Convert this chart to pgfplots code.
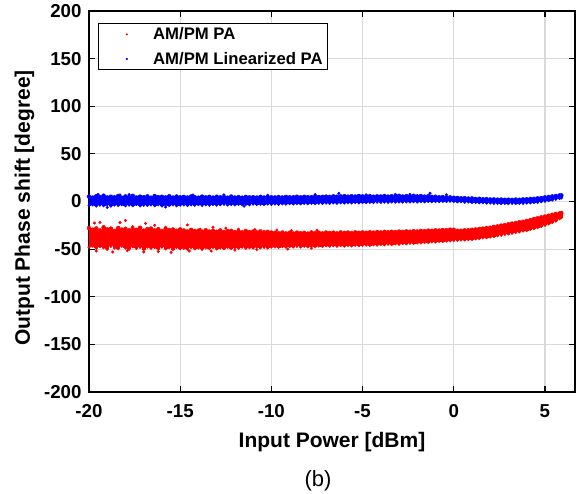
\documentclass[border=0pt]{standalone}
\usepackage{fontspec}
\setmainfont{Liberation Sans}
\usepackage{pgfplots}
\pgfplotsset{compat=1.18}
\usepackage{pgfplotstable}

% edges of the two scatter bands: x, red low/high, blue low/high
\pgfplotstableread{
x rlo rhi blo bhi
-20.0 -48.1 -27.9 -4.3 5.2
-19.8 -46.9 -29.6 -3.6 4.1
-19.6 -49.2 -28.3 -4.8 5.6
-19.4 -47.5 -30.4 -3.9 4.6
-19.2 -48.6 -27.1 -4.5 6.1
-19.0 -50.3 -29.2 -3.4 4.3
-18.8 -47.2 -28.5 -4.9 5.0
-18.6 -48.8 -30.9 -3.7 4.4
-18.4 -49.6 -27.8 -4.2 5.8
-18.2 -47.0 -29.5 -3.5 4.0
-18.0 -48.9 -28.7 -4.6 5.3
-17.8 -50.1 -30.2 -3.8 4.7
-17.6 -47.7 -28.9 -4.4 5.9
-17.4 -49.3 -29.8 -3.3 4.2
-17.2 -48.2 -27.6 -4.7 5.1
-17.0 -50.4 -30.6 -3.9 4.5
-16.8 -47.9 -29.0 -4.1 5.4
-16.6 -49.1 -28.4 -3.6 4.0
-16.4 -48.4 -30.3 -4.5 5.7
-16.2 -50.0 -29.1 -3.4 4.6
-16.0 -48.0 -31.0 -4.8 5.0
-15.8 -49.7 -28.8 -3.7 4.3
-15.6 -48.5 -30.0 -4.3 5.5
-15.4 -50.6 -29.4 -3.5 4.1
-15.2 -48.3 -30.7 -4.6 5.2
-15.0 -49.5 -29.3 -3.9 4.4
-14.8 -49.2 -30.5 -3.6 4.8
-14.6 -50.1 -31.4 -4.2 4.2
-14.4 -48.6 -29.8 -3.5 5.3
-14.2 -49.8 -31.1 -4.0 4.5
-14.0 -48.9 -30.6 -3.3 4.0
-13.8 -50.3 -31.7 -4.1 5.1
-13.6 -48.7 -30.2 -3.4 4.3
-13.4 -49.5 -31.5 -3.9 4.9
-13.2 -48.4 -30.9 -3.2 4.1
-13.0 -49.9 -31.8 -3.8 5.0
-12.8 -48.8 -30.4 -3.5 4.4
-12.6 -49.6 -32.0 -3.0 4.7
-12.4 -48.2 -31.2 -3.7 4.0
-12.2 -49.4 -30.8 -3.1 5.2
-12.0 -48.6 -32.1 -3.6 4.2
-11.8 -49.1 -31.3 -2.9 4.6
-11.6 -48.0 -32.4 -3.4 4.0
-11.4 -49.3 -31.0 -3.0 4.8
-11.2 -48.5 -32.2 -3.5 4.3
-11.0 -48.9 -31.6 -2.8 4.5
-10.8 -47.8 -32.5 -3.3 4.1
-10.6 -48.7 -31.4 -2.9 4.9
-10.4 -48.2 -32.3 -3.2 4.2
-10.2 -48.8 -31.9 -2.7 4.6
-10.0 -47.9 -32.6 -3.1 4.4
-9.8 -47.7 -32.9 -2.6 4.3
-9.6 -48.3 -33.4 -3.0 4.7
-9.4 -47.4 -32.6 -2.5 4.2
-9.2 -48.0 -33.5 -2.8 4.8
-9.0 -47.5 -32.8 -2.3 4.4
-8.8 -47.9 -33.6 -2.7 4.5
-8.6 -47.2 -32.7 -2.2 5.0
-8.4 -47.8 -33.3 -2.5 4.3
-8.2 -47.0 -32.9 -2.0 4.9
-8.0 -47.6 -33.7 -2.4 4.6
-7.8 -46.9 -32.5 -1.9 4.5
-7.6 -47.4 -33.2 -2.3 5.2
-7.4 -46.8 -32.8 -1.8 4.7
-7.2 -47.3 -33.5 -2.1 4.9
-7.0 -46.6 -32.6 -1.7 5.1
-6.8 -47.1 -33.1 -2.0 4.8
-6.6 -46.5 -32.7 -1.5 5.4
-6.4 -47.0 -33.4 -1.9 5.0
-6.2 -46.4 -32.5 -1.4 5.3
-6.0 -46.9 -33.0 -1.7 5.6
-5.8 -46.3 -32.6 -1.3 5.1
-5.6 -46.7 -33.2 -1.6 5.5
-5.4 -46.1 -32.4 -1.2 5.2
-5.2 -46.5 -32.9 -1.5 5.8
-5.0 -46.0 -32.5 -1.1 5.3
-4.8 -45.8 -32.8 -1.2 5.1
-4.6 -46.2 -32.3 -0.9 5.6
-4.4 -45.5 -32.7 -1.1 5.0
-4.2 -45.9 -32.1 -0.8 5.4
-4.0 -45.2 -32.5 -1.0 5.2
-3.8 -45.6 -31.9 -0.7 5.7
-3.6 -44.9 -32.3 -0.9 5.1
-3.4 -45.3 -31.8 -0.6 5.5
-3.2 -44.6 -32.2 -0.8 5.3
-3.0 -44.9 -31.6 -0.5 5.9
-2.8 -44.3 -31.9 -0.7 5.2
-2.6 -44.5 -31.4 -0.4 5.6
-2.4 -43.9 -31.7 -0.6 5.4
-2.2 -44.1 -31.2 -0.3 6.0
-2.0 -43.5 -31.5 -0.5 5.3
-1.8 -43.6 -30.9 -0.2 5.7
-1.6 -43.0 -31.2 -0.4 5.1
-1.4 -43.1 -30.6 -0.1 5.5
-1.2 -42.5 -30.8 -0.3 4.8
-1.0 -42.6 -30.3 0.0 5.0
-0.8 -42.0 -30.5 -0.2 4.4
-0.6 -42.0 -29.9 0.1 4.6
-0.4 -41.5 -30.1 -0.1 4.1
-0.2 -41.4 -29.6 0.2 4.3
0.0 -40.9 -29.7 -0.1 3.9
0.2 -40.8 -30.9 -0.5 3.7
0.4 -40.4 -30.7 -0.3 3.4
0.6 -40.5 -30.3 -0.8 3.5
0.8 -40.0 -30.2 -0.6 3.1
1.0 -39.9 -29.7 -1.1 3.2
1.2 -39.2 -29.4 -1.0 2.7
1.4 -39.0 -28.8 -1.4 2.8
1.6 -38.3 -28.5 -1.3 2.4
1.8 -38.1 -27.9 -1.7 2.5
2.0 -37.4 -27.6 -1.6 2.1
2.2 -36.9 -26.7 -2.0 2.2
2.4 -36.0 -26.2 -1.9 1.9
2.6 -35.5 -25.3 -2.2 2.0
2.8 -34.6 -24.8 -2.0 1.8
3.0 -34.1 -23.9 -2.3 1.9
3.2 -33.4 -23.2 -2.1 1.7
3.4 -32.5 -22.7 -2.2 2.0
3.6 -32.0 -21.8 -1.9 1.8
3.8 -31.1 -21.3 -2.0 2.2
4.0 -30.6 -20.4 -1.6 2.3
4.2 -29.4 -19.6 -1.5 2.7
4.4 -28.5 -18.4 -1.1 2.8
4.6 -27.4 -17.6 -0.9 3.3
4.8 -26.3 -16.6 -0.2 3.6
5.0 -25.0 -15.9 0.2 4.3
5.2 -23.6 -14.9 0.9 4.7
5.4 -22.1 -14.0 1.5 5.3
5.6 -20.6 -13.1 2.3 5.7
5.8 -18.2 -12.6 3.2 6.3
5.9 -17.0 -12.1 3.6 6.4
}\phasedata

\newcommand{\bigbold}[1]{\fontsize{#1}{#1}\selectfont\bfseries}

\begin{document}
\begin{tikzpicture}
\path[use as bounding box] (-89bp,-102bp) rectangle (492bp,392bp);
\begin{axis}[
  at={(0,0)}, anchor=south west,
  scale only axis, width=486bp, height=381bp,
  xmin=-20, xmax=6.65, ymin=-200, ymax=200,
  xtick={-20,-15,...,5}, ytick={-200,-150,...,200},
  tick pos=both, tick align=inside,
  major tick length=6bp,
  every tick/.style={black, line width=1.2bp},
  axis line style={black, line width=1.6bp},
  grid=major,
  major grid style={black!15, line width=1.2bp},
  /pgf/number format/assume math mode=true,
  ticklabel style={font=\bigbold{18.7bp}},
  xticklabel style={yshift=-9bp},
  yticklabel style={xshift=-4bp},
  xlabel={Input Power [dBm]},
  ylabel={Output Phase shift [degree]},
  label style={font=\bigbold{21bp}},
  xlabel style={at={(axis description cs:0.5,-0.1444)}, anchor=base},
  ylabel style={at={(axis description cs:-0.1214,0.483)}, anchor=base},
  legend style={at={(0.0185,0.9685)}, anchor=north west, draw=black,
    line width=1.2bp, font=\bigbold{16.7bp}, legend cell align=left,
    row sep=7bp},
  legend image code/.code={%
    \path[draw=none] (0bp,0bp) -- (49.6bp,0bp);
    \fill[#1, draw=none] (25.3bp,0bp) circle (1.2bp);},
  band/.style={#1, only marks, mark=none, forget plot,
    error bars/.cd, y dir=minus, y explicit, error mark=none,
    error bar style={line width=4bp, draw=#1}},
  dots/.style={only marks, mark=*, mark size=1.3bp, #1,
    mark options={fill=#1, draw=none}},
]
% red band: vertical strokes from the low edge to the high edge
\addplot[band=red] table[x=x, y=rhi, y error minus expr=\thisrow{rhi}-\thisrow{rlo}] {\phasedata};
\addplot[dots=red] table[x=x, y=rhi] {\phasedata};
\addlegendentry{AM/PM PA}
\addplot[dots=red, forget plot] table[x=x, y=rlo] {\phasedata};
\addplot[dots=red, forget plot]
  coordinates {(-19.7,-22.6) (-19.4,-22) (-18.3,-22) (-18.0,-20) (-17.6,-26.5)
  (-16.9,-23) (-16.4,-25) (-15.8,-27) (-14.6,-24.6) (-13.9,-29) (-13.2,-27)
  (-12.5,-28) (-11.8,-29) (-10.9,-29.5) (-9.7,-30) (-8.9,-30.5) (-7.5,-30.2)
  (-19.6,-52) (-18.7,-53) (-17.9,-51.5) (-17.0,-53) (-16.2,-52.5) (-15.5,-53.5)
  (-14.5,-52) (-13.3,-52) (-12.0,-51) (-10.8,-50.5) (-9.1,-50) (-7.8,-49)};
% blue band
\addplot[band=blue] table[x=x, y=bhi, y error minus expr=\thisrow{bhi}-\thisrow{blo}] {\phasedata};
\addplot[dots=blue] table[x=x, y=bhi] {\phasedata};
\addlegendentry{AM/PM Linearized PA}
\addplot[dots=blue, forget plot] table[x=x, y=blo] {\phasedata};
\addplot[dots=blue, forget plot]
  coordinates {(-19.5,7.5) (-18.3,6.8) (-17.8,7.2) (-14.3,6.9) (-12.6,7.0)
  (-10.2,6.6) (-7.6,7.3) (-6.3,8.6) (-4.8,7.0) (-3.2,7.4) (-2.4,7.5)
  (-1.3,8.6) (-0.4,7.0) (-19.0,-6.2) (-15.8,-5.8) (-11.5,-4.9)};
\end{axis}
\node[font=\fontsize{22bp}{22bp}\selectfont] at (229bp,-89bp) {(b)};
\end{tikzpicture}
\end{document}
